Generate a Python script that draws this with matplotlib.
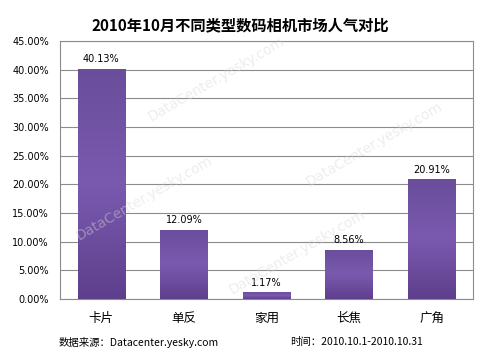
import matplotlib
matplotlib.use("Agg")
import matplotlib.pyplot as plt
import numpy as np
from matplotlib.colors import LinearSegmentedColormap

plt.rcParams['font.family'] = ['Noto Sans CJK SC', 'DejaVu Sans']

categories = ['卡片', '单反', '家用', '长焦', '广角']
values = [40.13, 12.09, 1.17, 8.56, 20.91]
value_labels = ['40.13%', '12.09%', '1.17%', '8.56%', '20.91%']
yticks = [0, 5, 10, 15, 20, 25, 30, 35, 40, 45]
title = '2010年10月不同类型数码相机市场人气对比'
source = '数据来源：Datacenter.yesky.com'
period = '时间：2010.10.1-2010.10.31'
watermark = 'DataCenter.yesky.com'

fig = plt.figure(figsize=(4.8, 3.6), dpi=100)
ax = fig.add_axes([0.125, 0.169, 0.86, 0.717])

x = np.arange(len(categories))
bars = ax.bar(x, values, width=0.57, color='#6a4d9b', edgecolor='#7d62ad', linewidth=0.6, zorder=3)

grad = np.linspace(0, 1, 256).reshape(-1, 1)
cmap = LinearSegmentedColormap.from_list('p', ['#5e3f8c', '#7a5aaf', '#6a4d9b'])
for b in bars:
    x0, y0 = b.get_x(), b.get_y()
    w, h = b.get_width(), b.get_height()
    im = ax.imshow(grad, extent=[x0, x0 + w, y0, y0 + h], aspect='auto', cmap=cmap,
                   origin='lower', zorder=3.5)
    im.set_clip_path(b)

for xi, v, lab in zip(x, values, value_labels):
    ax.text(xi, v + 0.8, lab, ha='center', va='bottom', fontsize=7, family=['DejaVu Sans'])

ax.set_xlim(-0.5, len(categories) - 0.5)
ax.set_ylim(0, 45)
ax.set_yticks(yticks)
ax.set_yticklabels([f'{t:.2f}%' for t in yticks], fontsize=7, family=['DejaVu Sans'])
ax.set_xticks(x)
ax.set_xticklabels(categories, fontsize=9)
ax.tick_params(axis='x', length=0, pad=9)
ax.tick_params(axis='y', length=0, pad=8)
ax.yaxis.grid(True, color='#8c8c8c', linewidth=0.8, zorder=0)
ax.set_axisbelow(True)
for s in ax.spines.values():
    s.set_color('#8c8c8c')
    s.set_linewidth(0.8)

fig.text(0.5, 0.93, title, ha='center', va='center', fontsize=11, fontweight='bold')
fig.text(0.123, 0.05, source, ha='left', va='center', fontsize=7.5)
fig.text(0.604, 0.05, period, ha='left', va='center', fontsize=7.5)

for (wx, wy) in [(0.45, 0.78), (0.78, 0.6), (0.3, 0.45), (0.62, 0.3)]:
    fig.text(wx, wy, watermark, rotation=30, ha='center', va='center',
             fontsize=10, color='#d8d8d8', alpha=0.45, family=['DejaVu Sans'], zorder=10)

fig.savefig('out.png', dpi=100)
